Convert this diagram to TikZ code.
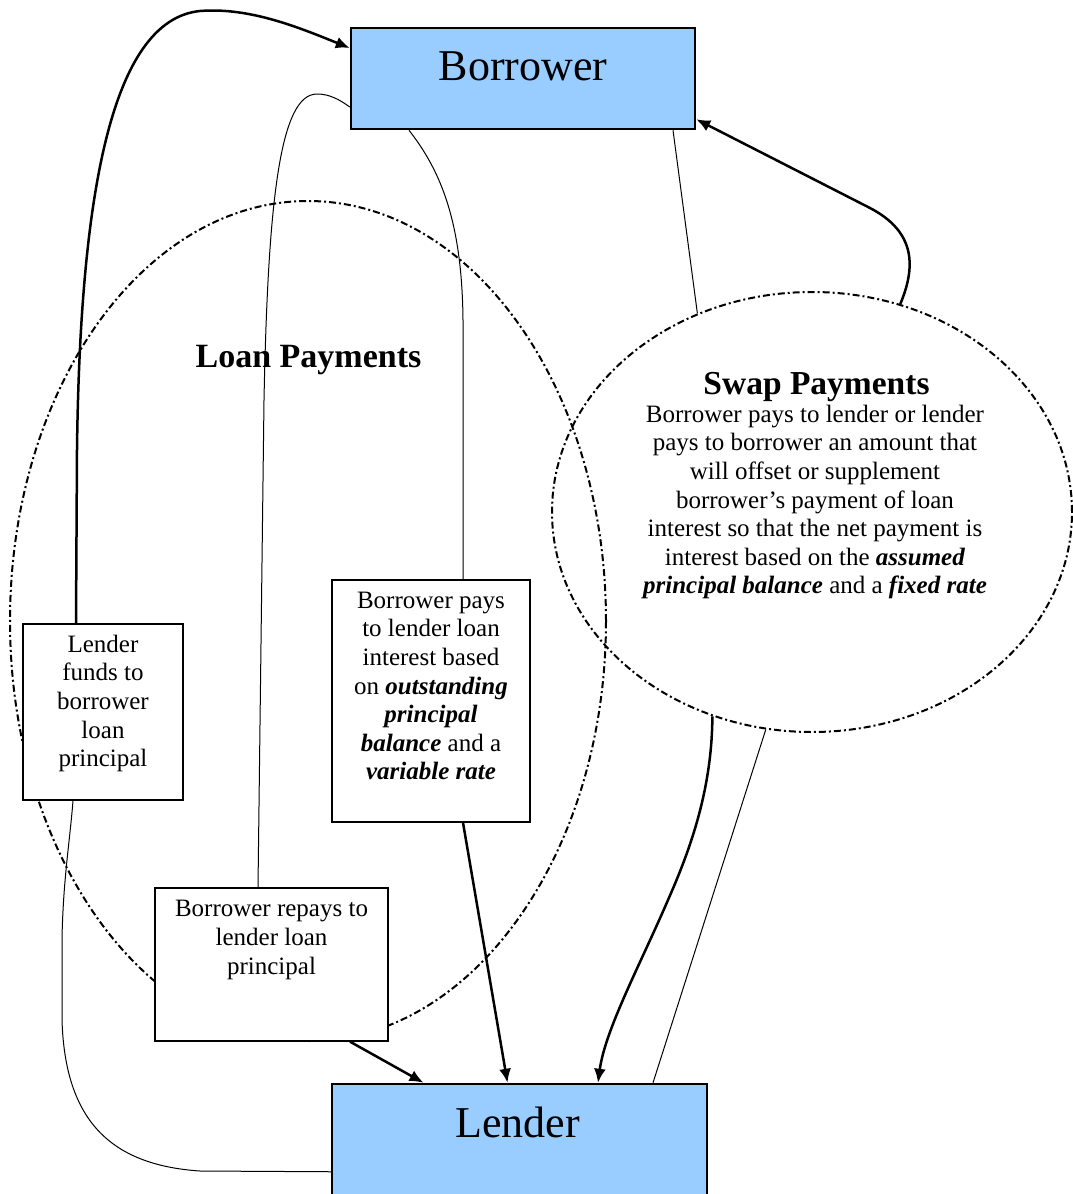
\documentclass[tikz,border=0pt]{standalone}
\usepackage{fontspec}
\setmainfont{Liberation Serif}
\usetikzlibrary{arrows.meta,shapes.geometric}
\definecolor{boxblue}{HTML}{99CCFF}
\newcommand{\bi}[1]{\textbf{\textit{#1}}}
\begin{document}
\begin{tikzpicture}[x=1pt,y=-1pt,
  bigbox/.style={draw=black,line width=2.5pt,fill=boxblue,rectangle,inner sep=0pt},
  smallbox/.style={draw=black,line width=1.3pt,fill=white,rectangle,inner sep=0pt},
  region/.style={draw=black,ellipse,inner sep=0pt,line width=2pt,dash pattern=on 7pt off 3pt on 2pt off 3pt},
  thinline/.style={line width=1pt},
  heavy/.style={line width=2.5pt,-{Latex[length=14pt,width=12pt]}},
  bodytext/.style={font=\fontsize{25}{28.6}\selectfont,align=center,inner sep=0pt},
  titletext/.style={font=\fontsize{44}{50}\selectfont,inner sep=0pt,anchor=base},
  headtext/.style={font=\bfseries\fontsize{34}{40}\selectfont,inner sep=0pt,anchor=base},
]
\useasboundingbox (0,0) rectangle (1073,1194);
\clip (0,0) rectangle (1073,1194);

% regions
\node[region,minimum width=596pt,minimum height=840pt] (LP) at (308,621) {};
\node[region,minimum width=520pt,minimum height=440pt] (S) at (812,512) {};

% boxes
\node[bigbox,minimum width=344pt,minimum height=101pt] (B) at (523,78.5) {};
\node[bigbox,minimum width=375pt,minimum height=130pt] (L) at (519.5,1149) {};
\node[smallbox,minimum width=160pt,minimum height=176pt] (F) at (103,712) {};
\node[smallbox,minimum width=198pt,minimum height=242pt] (P) at (431,701) {};
\node[smallbox,minimum width=233pt,minimum height=153pt] (R) at (271.5,964.5) {};

% texts
\node[titletext] (Bt) at (523,80) {Borrower};
\node[titletext] (Lt) at (517.5,1137) {Lender};
\node[headtext] (LPt) at (308.5,367) {Loan Payments};
\node[headtext,font=\bfseries\fontsize{33.5}{40}\selectfont] (St) at (816.5,394) {Swap Payments};
\node[bodytext] (Sb) at (815,502) {Borrower pays to lender or lender\\pays to borrower an amount that\\will offset or supplement\\borrower’s payment of loan\\interest so that the net payment is\\interest based on the \bi{assumed}\\\bi{principal balance} and a \bi{fixed rate}};
\node[bodytext] (Ft) at (103,703.5) {Lender\\funds to\\borrower\\loan\\principal};
\node[bodytext] (Pt) at (431,686) {Borrower pays\\to lender loan\\interest based\\on \bi{outstanding}\\\bi{principal}\\\bi{balance} and a\\\bi{variable rate}};
\node[bodytext] (Rt) at (271.5,940) {Borrower repays to\\lender loan\\principal};

% connectors
\draw[heavy] ([xshift=-27pt]F.north) -- (77,450) .. controls (80,200) and (110,20) .. (200,11) .. controls (250,7) and (300,28) .. ([yshift=30.5pt]B.west);
\draw[thinline] ([xshift=-13.5pt]R.north) -- (264,400) .. controls (268,200) and (280,94) .. (317,94) .. controls (330,94) and (340,100) .. ([yshift=-28.5pt]B.west);
\draw[thinline] ([xshift=-114pt]B.south) .. controls (440,170) and (462,220) .. (463,320) -- ([xshift=32pt]P.north);
\draw[heavy] ([xshift=32pt]P.south) -- ([xshift=-12pt]L.north);
\draw[heavy] ([xshift=78.5pt]R.south) -- ([xshift=-96pt]L.north);
\draw[thinline] ([xshift=150pt]B.south) -- (S.120);
\draw[heavy] (S.67) .. controls (918,262) and (912,230) .. (870,208) -- ([yshift=11pt]B.south east);
\draw[heavy] (S.244) .. controls (712,790) and (690,850) .. (668,900) .. controls (640,965) and (605,1030) .. ([xshift=78.5pt]L.north);
\draw[thinline] (S.258) -- ([xshift=133.5pt]L.north);
\draw[thinline] ([yshift=-89pt]L.north west) -- (200,1171) .. controls (110,1165) and (65,1120) .. (62,1020) -- (62,940) .. controls (63,880) and (70,840) .. ([xshift=-30pt]F.south);
\end{tikzpicture}
\end{document}
